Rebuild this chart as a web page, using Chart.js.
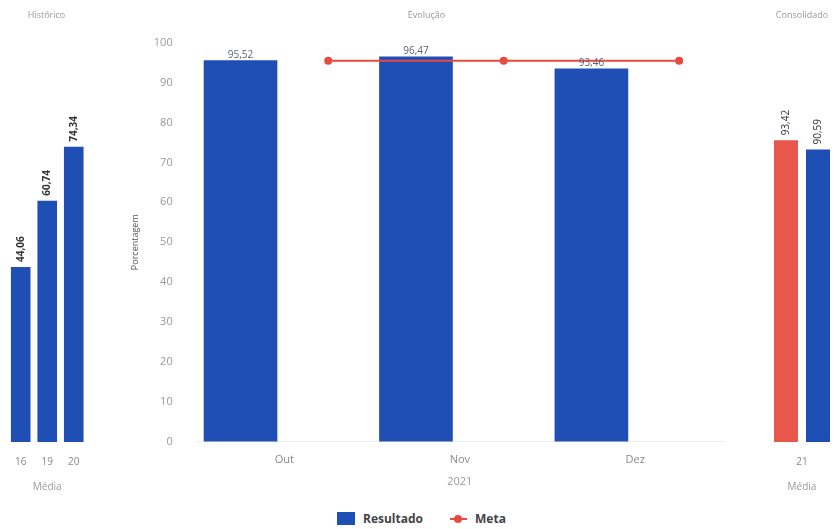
<!DOCTYPE html>
<html>
<head>
<meta charset="utf-8">
<script src="https://cdn.jsdelivr.net/npm/chart.js@4.4.0/dist/chart.umd.min.js"></script>
<style>
  html, body { margin: 0; padding: 0; background: #fff; overflow: hidden; }
  body { width: 834px; height: 529px; position: relative; font-family: "Open Sans", sans-serif; }
  .box { position: absolute; top: 0; height: 495px; }
  .legend { position: absolute; left: 337px; top: 510px; display: flex; align-items: center;
            font: bold 12px "Open Sans", sans-serif; color: #444; }
  .legend .sq { width: 18px; height: 13px; background: #1f4eb4; margin-right: 8px; }
  .legend .ln { position: relative; width: 17px; height: 2px; background: #e84a3f; margin: 0 8px 0 27px; }
  .legend .ln::after { content: ""; position: absolute; left: 4px; top: -3px; width: 8px; height: 8px;
                       border-radius: 50%; background: #e84a3f; }
</style>
</head>
<body>
<div class="box" style="left:0;width:95px"><canvas id="historico"></canvas></div>
<div class="box" style="left:128px;width:600px;height:492px"><canvas id="evolucao"></canvas></div>
<div class="box" style="left:752px;width:100px"><canvas id="consolidado"></canvas></div>
<div class="legend"><span class="sq"></span>Resultado<span class="ln"></span>Meta</div>

<script>
// Dados
const histLabels = ["16", "19", "20"];
const histResultado = [44.06, 60.74, 74.34];

const evoLabels = ["Out", "Nov", "Dez"];
const evoResultado = [95.52, 96.47, 93.46];
const evoMeta = [95.5, 95.5, 95.5];

const consLabels = ["21"];
const consMeta = [93.42];
const consResultado = [90.59];

const azul = "#1f4eb4";
const vermelho = "#e8574b";
const linhaMeta = "#e84a3f";
const fonte = "'Open Sans', sans-serif";

//Plugin que escreve o valor em cima de cada barra
const valueLabels = {
  id: "valueLabels",
  afterDatasetsDraw(chart, args, opts) {
    const ctx = chart.ctx;
    chart.data.datasets.forEach((ds, i) => {
      const meta = chart.getDatasetMeta(i);
      if (meta.type !== "bar") return;
      meta.data.forEach((bar, j) => {
        const raw = ds.data[j];
        const v = raw !== null && typeof raw === "object" ? raw.y : raw;
        if (v == null) return;
        const text = v.toFixed(2).replace(".", ",");
        ctx.save();
        ctx.font = opts.font;
        ctx.fillStyle = opts.color;
        if (opts.rotate) {
          ctx.translate(bar.x, bar.y - 5);
          ctx.rotate(-Math.PI / 2);
          ctx.textAlign = "left";
          ctx.textBaseline = "middle";
          ctx.fillText(text, 0, 0);
        } else {
          ctx.textAlign = "center";
          ctx.textBaseline = "bottom";
          ctx.fillText(text, bar.x, bar.y - 1);
        }
        ctx.restore();
      });
    });
  },
};

function smallTitle(text) {
  return {
    display: true,
    text: text,
    color: "#999",
    font: { family: fonte, size: 9, weight: "normal" },
    padding: { top: 10, bottom: 24 },
  };
}

function mediaAxis() {
  return {
    grid: { display: false, drawTicks: false },
    border: { display: false },
    ticks: { color: "#888", font: { family: fonte, size: 10 }, padding: 14 },
    title: {
      display: true,
      text: "Média",
      color: "#999",
      font: { family: fonte, size: 10 },
      padding: { top: -1, bottom: 2 },
    },
  };
}

//Historico
new Chart(document.getElementById("historico"), {
  type: "bar",
  data: {
    labels: histLabels,
    datasets: [
      {
        label: "Resultado",
        data: histResultado,
        backgroundColor: azul,
        barPercentage: 0.74,
        categoryPercentage: 1,
      },
    ],
  },
  options: {
    responsive: true,
    maintainAspectRatio: false,
    animation: false,
    layout: { padding: { left: 6, right: 8 } },
    plugins: {
      legend: { display: false },
      tooltip: { enabled: false },
      title: smallTitle("Histórico"),
      valueLabels: { rotate: true, font: "bold 10px " + fonte, color: "#333" },
    },
    scales: {
      x: mediaAxis(),
      y: { display: false, min: 0, max: 100 },
    },
  },
  plugins: [valueLabels],
});

//Evolucao - barras e meta num eixo linear escondido, rotulos no eixo de categorias
new Chart(document.getElementById("evolucao"), {
  type: "bar",
  data: {
    labels: evoLabels,
    datasets: [
      {
        label: "Resultado",
        data: evoResultado.map((v, i) => ({ x: i - 0.25, y: v })),
        xAxisID: "xb",
        backgroundColor: azul,
        barThickness: 73,
        order: 1,
      },
      {
        type: "line",
        label: "Meta",
        data: evoMeta.map((v, i) => ({ x: i + 0.25, y: v })),
        xAxisID: "xb",
        borderColor: linhaMeta,
        backgroundColor: linhaMeta,
        borderWidth: 2,
        pointRadius: 4,
        pointBorderWidth: 0,
        tension: 0,
        order: 0,
      },
    ],
  },
  options: {
    responsive: true,
    maintainAspectRatio: false,
    animation: false,
    layout: { padding: { left: 2, right: 5 } },
    plugins: {
      legend: { display: false },
      tooltip: { enabled: false },
      title: {
        display: true,
        text: "Evolução",
        color: "#999",
        font: { family: fonte, size: 9, weight: "normal" },
        padding: { top: 10, bottom: 22 },
      },
      valueLabels: { rotate: false, font: "10px " + fonte, color: "#5a6275" },
    },
    scales: {
      x: {
        type: "category",
        offset: true,
        grid: { display: false, drawTicks: false },
        border: { display: true, color: "#eeeeee" },
        ticks: { color: "#888", font: { family: fonte, size: 11 }, padding: 12 },
        title: {
          display: true,
          text: "2021",
          color: "#999",
          font: { family: fonte, size: 11 },
          padding: { top: -4, bottom: 4 },
        },
      },
      xb: { type: "linear", display: false, offset: false, min: -0.5, max: 2.5 },
      y: {
        min: 0,
        max: 100,
        grid: { display: false, drawTicks: false },
        border: { display: false },
        ticks: { stepSize: 10, color: "#999", font: { family: fonte, size: 11 }, padding: 24 },
        title: {
          display: true,
          text: "Porcentagem",
          color: "#555",
          font: { family: fonte, size: 9 },
          padding: { top: 0, bottom: -11 },
        },
      },
    },
  },
  plugins: [valueLabels],
});

//Consolidado
new Chart(document.getElementById("consolidado"), {
  type: "bar",
  data: {
    labels: consLabels,
    datasets: [
      {
        label: "Meta",
        data: consMeta,
        backgroundColor: vermelho,
        barPercentage: 0.75,
        categoryPercentage: 1,
      },
      {
        label: "Resultado",
        data: consResultado,
        backgroundColor: azul,
        barPercentage: 0.75,
        categoryPercentage: 1,
      },
    ],
  },
  options: {
    responsive: true,
    maintainAspectRatio: false,
    animation: false,
    layout: { padding: { left: 18, right: 18 } },
    plugins: {
      legend: { display: false },
      tooltip: { enabled: false },
      title: smallTitle("Consolidado"),
      valueLabels: { rotate: true, font: "10px " + fonte, color: "#333" },
    },
    scales: {
      x: mediaAxis(),
      y: { display: false, min: 0, max: 123 },
    },
  },
  plugins: [valueLabels],
});
</script>
</body>
</html>
